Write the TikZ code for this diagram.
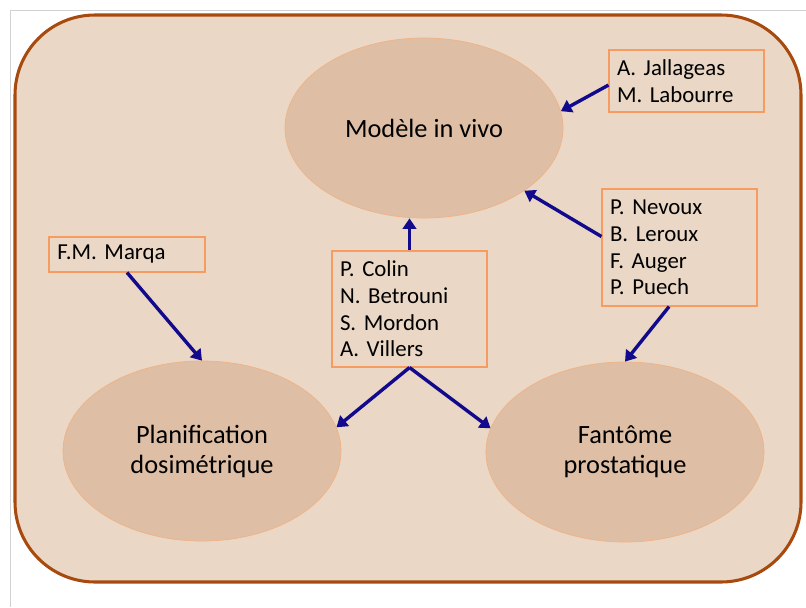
\documentclass[tikz,border=0pt]{standalone}
\usepackage{fontspec}
\setmainfont{Carlito}
\usetikzlibrary{shapes.geometric,arrows.meta}
\definecolor{framebrown}{RGB}{168,74,14}
\definecolor{slidefill}{RGB}{234,215,197}
\definecolor{themefill}{RGB}{222,191,165}
\definecolor{themeline}{RGB}{240,178,132}
\definecolor{boxorange}{RGB}{246,156,96}
\definecolor{arrowblue}{RGB}{18,10,140}
\tikzset{
	theme/.style={ellipse, fill=themefill, draw=themeline, line width=0.6pt, inner sep=0pt,
		minimum width=8.34cm, minimum height=5.4cm, align=center, font=\fontsize{22.5}{25.6}\selectfont},
	namebox/.style={draw=boxorange, line width=0.9pt, minimum width=4.65cm, text width=4.17cm,
		inner xsep=0.24cm, inner ysep=0pt, align=left, font=\fontsize{19.5}{22.8}\selectfont\frenchspacing},
	link/.style={draw=arrowblue, line width=2.9pt, -{Triangle[length=9pt,width=11.5pt]}}
}
\begin{document}
\begin{tikzpicture}[x=0.03cm, y=-0.03cm]
		\useasboundingbox (0,0) rectangle (806,607);
		\draw[gray!35, line width=0.8pt] (10,607) -- (10,10) -- (806,10);
		\draw[framebrown, fill=slidefill, line width=2.6pt, rounded corners=2.4cm] (15,15) rectangle (801,582);
		\node[theme] (vivo) at (424,128) {Modèle in vivo};
		\node[theme] (plan) at (202,451) {Planification\\dosimétrique};
		\node[theme] (fan) at (625,452) {Fantôme\\prostatique};
		\node[namebox, minimum height=1.86cm] (jal) at (686.5,81) {A. Jallageas\\M. Labourre};
		\node[namebox, minimum height=3.51cm] (nev) at (679.5,247.5) {P. Nevoux\\B. Leroux\\F. Auger\\P. Puech};
		\node[namebox, minimum width=4.68cm, minimum height=1.05cm] (mar) at (127,254.5) {F.M. Marqa};
		\node[namebox, minimum height=3.48cm] (col) at (409.5,309) {P. Colin\\N. Betrouni\\S. Mordon\\A. Villers};
		\draw[link] (jal.183) -- (vivo.7);
		\draw[link] (nev.172) -- (vivo.-32);
		\draw[link] (nev.-100) -- (fan.north);
		\draw[link] (mar.south) -- (plan.north);
		\draw[link] (col.north) -- (col.north |- vivo.south);
		\draw[link] (col.south) -- (plan.10);
		\draw[link] (col.south) -- (fan.170);
		\end{tikzpicture}
\end{document}
